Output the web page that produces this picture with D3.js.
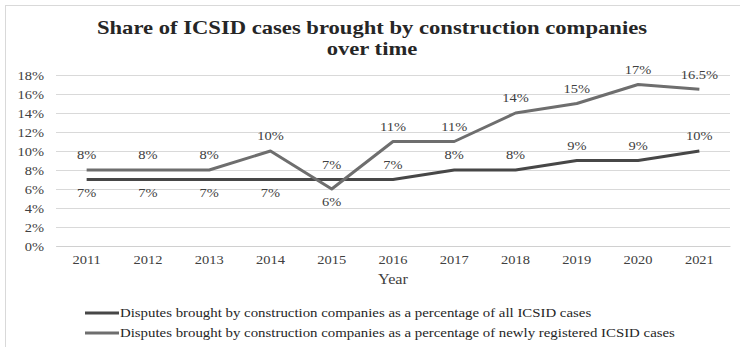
<!DOCTYPE html>
<html>
<head>
<meta charset="utf-8">
<script src="https://cdn.jsdelivr.net/npm/d3@7"></script>
<style>
  body { margin: 0; background: #fff; }
  text { font-family: "Liberation Serif", "Times New Roman", serif; }
</style>
</head>
<body>
<div class="chart"></div>
<script>
// chart values
const years = ["2011", "2012", "2013", "2014", "2015", "2016", "2017", "2018", "2019", "2020", "2021"];
const allCases = [7, 7, 7, 7, 7, 7, 8, 8, 9, 9, 10];
const newCases = [8, 8, 8, 10, 6, 11, 11, 14, 15, 17, 16.5];
const yTicks = [0, 2, 4, 6, 8, 10, 12, 14, 16, 18];
const seriesNames = [
    "Disputes brought by construction companies as a percentage of all ICSID cases",
    "Disputes brought by construction companies as a percentage of newly registered ICSID cases"
];

const width = 740, height = 347;
const plot = {left: 56, right: 730, top: 75, bottom: 246};
const sx = 1.16;   // the picture is a little wider than tall, text looks stretched

function stretch(sel) {
    sel.each(function() {
        const t = d3.select(this);
        const x = +t.attr("x") || 0;
        t.attr("x", x / sx).attr("transform", `scale(${sx},1)`);
    });
}

const svg = d3.select(".chart").append("svg")
    .attr("width", width)
    .attr("height", height);

// outer frame
svg.append("rect")
    .attr("x", 5.5).attr("y", 5.5)
    .attr("width", width).attr("height", height)
    .attr("fill", "none")
    .attr("stroke", "#d9d9d9");

const xScale = d3.scaleBand()
    .domain(years)
    .range([plot.left, plot.right]);

const yScale = d3.scaleLinear()
    .domain([0, 18])
    .range([plot.bottom, plot.top]);

const cx = d => xScale(d) + xScale.bandwidth() / 2;

// gridlines
svg.append("g")
    .attr("class", "grid")
    .attr("transform", `translate(${plot.left},0)`)
    .call(d3.axisLeft(yScale).tickValues(yTicks).tickSize(-(plot.right - plot.left)).tickFormat(""))
    .call(g => g.select(".domain").remove())
    .call(g => g.selectAll("line").attr("stroke", "#d9d9d9").attr("stroke-width", 1));

// y axis labels
svg.append("g")
    .attr("class", "axis y-axis")
    .attr("transform", `translate(${plot.left},0)`)
    .call(d3.axisLeft(yScale).tickValues(yTicks).tickSize(0).tickPadding(12).tickFormat(d => d + "%"))
    .call(g => g.select(".domain").remove())
    .call(g => g.selectAll("text")
        .attr("font-size", 12.5)
        .attr("font-family", "Liberation Serif")
        .attr("fill", "#404040")
        .call(stretch));

// x axis
svg.append("g")
    .attr("class", "axis x-axis")
    .attr("transform", `translate(0,${plot.bottom})`)
    .call(d3.axisBottom(xScale).tickSize(0).tickPadding(9))
    .call(g => g.select(".domain").attr("stroke", "#d0d0d0"))
    .call(g => g.selectAll("text")
        .attr("font-size", 12.5)
        .attr("font-family", "Liberation Serif")
        .attr("fill", "#404040")
        .call(stretch));

svg.append("text")
    .attr("x", (plot.left + plot.right) / 2)
    .attr("y", 284)
    .attr("text-anchor", "middle")
    .attr("font-size", 14)
    .attr("fill", "#404040")
    .text("Year")
    .call(stretch);

// title
const title = svg.append("text")
    .attr("text-anchor", "middle")
    .attr("font-size", 19.5)
    .attr("font-weight", "bold")
    .attr("fill", "#262626");
title.append("tspan").attr("x", 372 / sx).attr("y", 34)
    .text("Share of ICSID cases brought by construction companies");
title.append("tspan").attr("x", 372 / sx).attr("y", 55)
    .text("over time");
title.attr("transform", `scale(${sx},1)`);

// lines
const colors = ["#474747", "#6e6e6e"];
const series = [allCases, newCases];

const line = d3.line()
    .x((d, i) => cx(years[i]))
    .y(d => yScale(d));

series.forEach((vals, k) => {
    svg.append("path")
        .datum(vals)
        .attr("fill", "none")
        .attr("stroke", colors[k])
        .attr("stroke-width", 3)
        .attr("stroke-linejoin", "round")
        .attr("d", line);
});

// data labels
const below = [
    (v, i) => i <= 3,      // first series sits under the second one early on
    (v, i) => i === 4
];
series.forEach((vals, k) => {
    svg.append("g").selectAll("text")
        .data(vals)
        .enter()
        .append("text")
        .attr("x", (d, i) => cx(years[i]))
        .attr("y", (d, i) => yScale(d) + (below[k](d, i) ? 17.5 : -10.5))
        .attr("text-anchor", "middle")
        .attr("font-size", 12.5)
        .attr("fill", "#404040")
        .text(d => d + "%")
        .call(stretch);
});

// legend
const legendY = [313, 333];
seriesNames.forEach((name, k) => {
    svg.append("line")
        .attr("x1", 85).attr("x2", 119)
        .attr("y1", legendY[k]).attr("y2", legendY[k])
        .attr("stroke", colors[k])
        .attr("stroke-width", 3);
    svg.append("text")
        .attr("x", 120)
        .attr("y", legendY[k] + 4.5)
        .attr("font-size", 12.8)
        .attr("fill", "#262626")
        .text(name)
        .call(stretch);
});
</script>
</body>
</html>
